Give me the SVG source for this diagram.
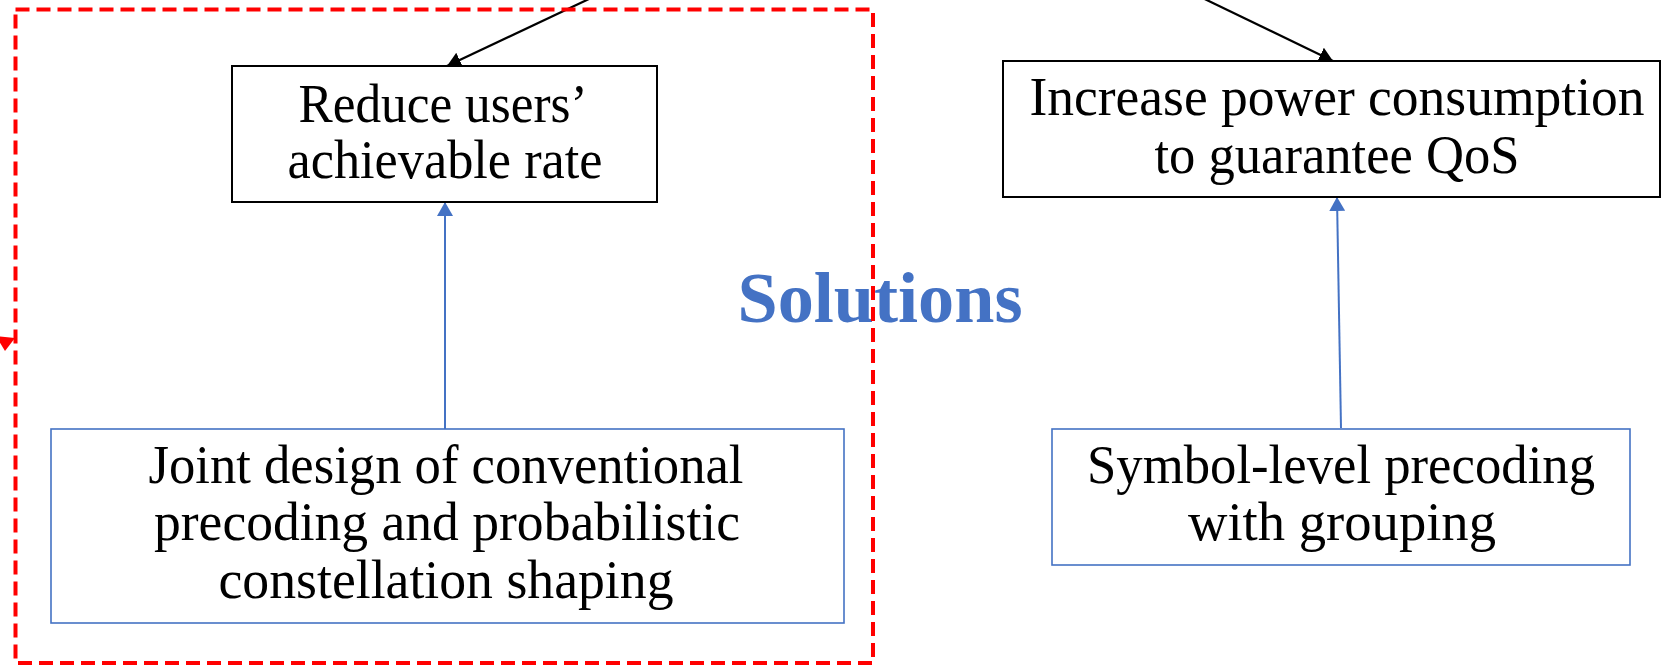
<svg xmlns="http://www.w3.org/2000/svg" width="1662" height="666" viewBox="0 0 1662 666">
  <defs>
    <style>
      .box-black { fill: #ffffff; stroke: #000000; stroke-width: 2; }
      .box-blue { fill: #ffffff; stroke: #4472C4; stroke-width: 1.6; }
      .label { font-family: "Liberation Serif", "Times New Roman", serif; font-size: 55px; fill: #000000; text-anchor: middle; }
      .title { font-family: "Liberation Serif", "Times New Roman", serif; font-size: 72px; font-weight: bold; fill: #4472C4; text-anchor: middle; }
      .edge-black { stroke: #000000; stroke-width: 2.2; fill: none; }
      .edge-blue { stroke: #4472C4; stroke-width: 2; fill: none; }
      .frame { fill: none; stroke: #FF0000; stroke-width: 4; stroke-dasharray: 14 7; }
    </style>
    <marker id="head-black" markerUnits="userSpaceOnUse" markerWidth="16" markerHeight="16" refX="14" refY="8" orient="auto">
      <path d="M0,0 L14,8 L0,16 z" fill="#000000"/>
    </marker>
    <marker id="head-blue" markerUnits="userSpaceOnUse" markerWidth="16" markerHeight="16" refX="14" refY="8" orient="auto">
      <path d="M0,0 L14,8 L0,16 z" fill="#4472C4"/>
    </marker>
  </defs>

  <rect width="1662" height="666" fill="#ffffff"/>

  <!-- connectors -->
  <g id="connectors">
    <line class="edge-black" x1="608" y1="-10" x2="447" y2="66" marker-end="url(#head-black)"/>
    <line class="edge-black" x1="1186" y1="-10" x2="1333" y2="61" marker-end="url(#head-black)"/>
    <line class="edge-blue" x1="445" y1="429" x2="445" y2="202" marker-end="url(#head-blue)"/>
    <line class="edge-blue" x1="1341" y1="428" x2="1337" y2="197" marker-end="url(#head-blue)"/>
    <polygon points="-4,336 15,338 5,351" fill="#FF0000"/>
  </g>

  <!-- effect nodes -->
  <g id="reduce-rate">
    <rect class="box-black" x="232" y="66" width="425" height="136"/>
    <text class="label" x="443" y="122" textLength="289" lengthAdjust="spacingAndGlyphs">Reduce users’</text>
    <text class="label" x="445" y="178" textLength="315" lengthAdjust="spacingAndGlyphs">achievable rate</text>
  </g>

  <g id="increase-power">
    <rect class="box-black" x="1003" y="61" width="657" height="136"/>
    <text class="label" x="1337" y="115" textLength="615" lengthAdjust="spacingAndGlyphs">Increase power consumption</text>
    <text class="label" x="1337" y="173" textLength="365" lengthAdjust="spacingAndGlyphs">to guarantee QoS</text>
  </g>

  <!-- solution nodes -->
  <g id="joint-design">
    <rect class="box-blue" x="51" y="429" width="793" height="194"/>
    <text class="label" x="446" y="483" textLength="595" lengthAdjust="spacingAndGlyphs">Joint design of conventional</text>
    <text class="label" x="447" y="540" textLength="586" lengthAdjust="spacingAndGlyphs">precoding and probabilistic</text>
    <text class="label" x="446" y="598" textLength="455" lengthAdjust="spacingAndGlyphs">constellation shaping</text>
  </g>

  <g id="symbol-level">
    <rect class="box-blue" x="1052" y="429" width="578" height="136"/>
    <text class="label" x="1341" y="483" textLength="508" lengthAdjust="spacingAndGlyphs">Symbol-level precoding</text>
    <text class="label" x="1342" y="540" textLength="308" lengthAdjust="spacingAndGlyphs">with grouping</text>
  </g>

  <g id="solutions-label">
    <text class="title" x="880" y="322" textLength="285" lengthAdjust="spacingAndGlyphs">Solutions</text>
  </g>

  <!-- dashed frame around the first solution -->
  <g id="solution-frame">
    <rect class="frame" x="15.5" y="9.5" width="857.5" height="653.5"/>
  </g>
</svg>
